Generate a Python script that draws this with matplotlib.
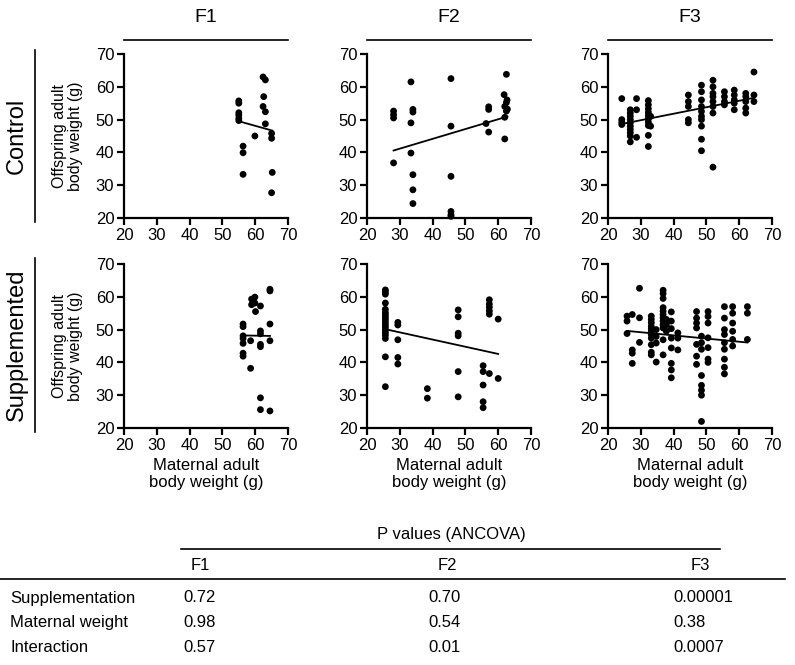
import numpy as np
import matplotlib
matplotlib.use('Agg')
import matplotlib.pyplot as plt
from matplotlib.lines import Line2D

plt.rcParams['font.family'] = ['Liberation Sans', 'DejaVu Sans']

generations = ['F1', 'F2', 'F3']
groups = ['Control', 'Supplemented']

# F1 control
f1c_x = [55.0, 55.0, 55.0, 55.0, 55.0, 55.0, 56.3, 56.3, 56.3, 59.9,
         62.4, 63.1, 62.6, 62.4, 63.1, 63.1, 65.0, 65.0, 65.2, 65.0]
f1c_y = [55.7, 55.0, 52.1, 51.4, 50.4, 49.7, 41.9, 39.9, 33.3, 45.0,
         63.0, 62.1, 57.0, 54.0, 52.4, 48.7, 45.8, 44.3, 33.9, 27.7]

# F2 control
f2c_x = [28.1, 28.1, 28.1, 28.1, 33.4, 33.4, 33.4, 34.0, 34.0, 34.0, 34.0, 34.0,
         45.6, 45.6, 45.6, 45.6, 45.6, 45.6, 56.3, 57.1, 57.1, 57.1,
         62.5, 61.8, 62.7, 62.5, 62.0, 62.8, 62.5, 62.0, 62.0]
f2c_y = [52.6, 51.5, 50.5, 36.8, 61.5, 49.0, 39.8, 53.1, 52.3, 33.2, 28.6, 24.4,
         62.5, 48.0, 32.7, 22.0, 21.0, 20.5, 48.8, 46.2, 53.9, 53.1,
         63.8, 57.6, 56.0, 55.2, 54.0, 53.2, 52.6, 50.7, 44.1]

# F3 control
f3c_x = [24.2] * 4 + [26.8] * 10 + [28.7] * 3 + [32.3] * 10 + [33.0] * 2 + \
        [44.5] * 5 + [48.5] * 10 + [52.0] * 8 + [55.5] * 4 + [58.5] * 5 + \
        [62.0] * 5 + [64.5] * 3
f3c_y = [56.4, 50.0, 48.5, 49.2,
         53.0, 52.0, 51.0, 50.0, 49.0, 48.0, 47.0, 46.0, 45.0, 43.2,
         56.4, 53.0, 44.6,
         55.8, 54.5, 53.3, 52.2, 51.2, 50.2, 49.2, 48.2, 45.2, 41.8,
         51.0, 48.0,
         57.5, 55.5, 54.0, 50.0, 49.0,
         60.5, 58.5, 56.0, 54.0, 52.5, 51.0, 50.0, 48.0, 44.0, 40.5,
         62.0, 60.0, 58.0, 57.0, 55.5, 54.0, 52.0, 35.5,
         58.5, 57.0, 55.5, 54.5,
         59.0, 57.5, 56.0, 55.0, 53.0,
         58.0, 57.0, 55.5, 53.5, 52.0,
         64.5, 57.5, 55.5]

# F1 supplemented
f1s_x = [56.3, 56.3, 56.3, 56.3, 56.3, 56.3, 56.3, 58.6, 58.6, 58.9, 58.9,
         59.9, 59.9, 60.1, 61.6, 61.6, 61.6, 61.6, 61.6, 61.6, 61.6,
         64.5, 64.5, 64.5, 64.5, 64.5]
f1s_y = [51.7, 50.9, 48.1, 47.3, 45.8, 42.8, 41.9, 46.6, 38.2, 59.3, 57.6,
         59.9, 58.1, 55.5, 57.2, 49.6, 48.7, 45.5, 44.8, 29.2, 25.6,
         62.3, 61.8, 51.7, 46.6, 25.2]

# F2 supplemented
f2s_x = [25.6] * 18 + [29.4] * 5 + [38.4] * 2 + [47.8] * 6 + [55.4] * 5 + \
        [57.3] * 6 + [60.0] * 2
f2s_y = [62.1, 61.5, 60.8, 58.1, 56.2, 55.2, 54.5, 53.7, 53.0, 52.2, 51.4,
         50.7, 49.9, 49.1, 48.3, 47.3, 41.7, 32.6,
         52.2, 51.4, 46.9, 41.5, 39.5,
         32.0, 29.1,
         56.0, 53.9, 48.9, 48.1, 37.2, 29.5,
         39.0, 37.2, 33.1, 28.0, 26.2,
         59.1, 57.8, 56.8, 55.7, 54.7, 36.6,
         53.2, 35.1]

# F3 supplemented
f3s_x = [25.8] * 3 + [27.4] * 4 + [29.6] * 3 + [33.2] * 11 + [34.7] * 4 + \
        [36.8] * 12 + [37.8] * 3 + [39.3] * 8 + [41.3] * 3 + \
        [47.0] * 7 + [48.5] * 8 + [50.5] * 7 + [55.5] * 9 + [58.0] * 6 + [62.5] * 3
f3s_y = [54.1, 52.6, 48.8,
         54.6, 43.8, 42.8, 39.7,
         62.6, 53.6, 46.1,
         54.1, 53.1, 52.1, 51.0, 50.3, 49.5, 48.5, 47.4, 45.4, 43.1, 42.3,
         50.0, 47.9, 45.9, 40.1,
         62.0, 61.0, 59.5, 56.7, 55.6, 54.6, 53.6, 52.6, 51.5, 50.5, 46.9, 42.3,
         53.1, 51.5, 49.5,
         55.4, 52.6, 50.3, 47.4, 44.4, 39.7, 37.7, 35.3,
         49.0, 47.4, 43.8,
         55.5, 53.5, 52.0, 50.5, 45.5, 41.9, 39.4,
         48.0, 46.0, 44.0, 36.0, 33.0, 31.5, 30.0, 22.0,
         55.5, 54.0, 52.0, 47.5, 44.5, 41.0, 40.0,
         57.0, 53.5, 50.0, 48.5, 46.0, 44.0, 41.0, 38.5, 36.5,
         57.0, 55.0, 52.0, 49.5, 47.0, 45.0,
         57.0, 55.0, 47.0]

panels = [[(f1c_x, f1c_y), (f2c_x, f2c_y), (f3c_x, f3c_y)],
          [(f1s_x, f1s_y), (f2s_x, f2s_y), (f3s_x, f3s_y)]]

# p-value table
table_rows = ['Supplementation', 'Maternal weight', 'Interaction']
p_f1 = ['0.72', '0.98', '0.57']
p_f2 = ['0.70', '0.54', '0.01']
p_f3 = ['0.00001', '0.38', '0.0007']

W, H = 795, 665
fig = plt.figure(figsize=(W / 100, H / 100), dpi=100)

col_left = [124, 367, 608]
row_top = [54, 264]
pw, ph = 164, 164


def fx(px):
    return px / W


def fy(py):
    return 1 - py / H


for r in range(2):
    for c in range(3):
        ax = fig.add_axes([fx(col_left[c]), fy(row_top[r] + ph), pw / W, ph / H])
        x, y = panels[r][c]
        x = np.array(x)
        y = np.array(y)
        ax.scatter(x, y, s=24, color='black', edgecolors='none', clip_on=False, zorder=3)
        k, b = np.polyfit(x, y, 1)
        xs = np.array([x.min(), x.max()])
        ax.plot(xs, k * xs + b, color='black', lw=1.3)
        ax.set_xlim(20, 70)
        ax.set_ylim(20, 70)
        ax.set_xticks(range(20, 71, 10))
        ax.set_yticks(range(20, 71, 10))
        for s in ['top', 'right']:
            ax.spines[s].set_visible(False)
        for s in ['left', 'bottom']:
            ax.spines[s].set_linewidth(1.6)
        ax.tick_params(width=1.6, length=5, labelsize=12, pad=2)
        if c == 0:
            ax.set_ylabel('Offspring adult\nbody weight (g)', fontsize=11.5,
                          labelpad=9, linespacing=1.1)
        if r == 1:
            ax.set_xlabel('Maternal adult\nbody weight (g)', fontsize=12,
                          labelpad=4, linespacing=1.15)

# column headers
for c, name in enumerate(generations):
    x0 = col_left[c]
    fig.text(fx(x0 + pw / 2), fy(17), name, ha='center', va='center', fontsize=14)
    fig.add_artist(Line2D([fx(x0), fx(x0 + pw)], [fy(40), fy(40)], color='black', lw=1.2))

# row labels
row_spans = [(50, 222), (258, 432)]
for name, (y0, y1) in zip(groups, row_spans):
    fig.text(fx(17), fy((y0 + y1) / 2), name, rotation=90, ha='center', va='center', fontsize=17)
    fig.add_artist(Line2D([fx(35), fx(35)], [fy(y0), fy(y1)], color='black', lw=1.2))

# table
fig.text(fx(451), fy(535), 'P values (ANCOVA)', ha='center', va='center', fontsize=12)
fig.add_artist(Line2D([fx(181), fx(720)], [fy(549), fy(549)], color='black', lw=1.2))
for name, xc in zip(generations, [200, 447, 700]):
    fig.text(fx(xc), fy(565), name, ha='center', va='center', fontsize=12)
fig.add_artist(Line2D([fx(0), fx(785)], [fy(579), fy(579)], color='black', lw=1.2))
for i, name in enumerate(table_rows):
    yy = fy(598 + i * 24.5)
    fig.text(fx(10), yy, name, ha='left', va='center', fontsize=12)
    fig.text(fx(183), yy, p_f1[i], ha='left', va='center', fontsize=12)
    fig.text(fx(428), yy, p_f2[i], ha='left', va='center', fontsize=12)
    fig.text(fx(673), yy, p_f3[i], ha='left', va='center', fontsize=12)

fig.savefig('out.png', dpi=100)
